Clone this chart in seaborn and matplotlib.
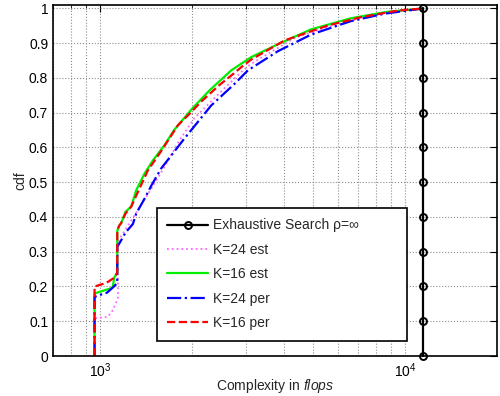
import numpy as np
import pandas as pd
import matplotlib
matplotlib.use('Agg')
import matplotlib.pyplot as plt
import seaborn as sns
from matplotlib.ticker import LogLocator, NullFormatter, FixedLocator

# values (complexity in flops, cdf)
exh_x = [11450] * 11
exh_y = [0.0, 0.1, 0.2, 0.3, 0.4, 0.5, 0.6, 0.7, 0.8, 0.9, 1.0]

k24_est_x = [958, 958, 1060, 1100, 1143, 1143, 1217, 1329, 1415, 1625, 1820,
             2038, 2431, 2900, 3127, 4336, 5579, 7174, 9000, 11450]
k24_est_y = [0, 0.108, 0.113, 0.132, 0.166, 0.33, 0.367, 0.42, 0.458, 0.544, 0.621,
             0.685, 0.752, 0.817, 0.841, 0.915, 0.947, 0.971, 0.99, 1.0]

k16_est_x = [958, 958, 1086, 1100, 1111, 1137, 1137, 1154, 1172, 1210, 1264,
             1312, 1397, 1489, 1625, 1752, 2003, 2280, 2689, 3127, 3824,
             4918, 6653, 8663, 11450]
k16_est_y = [0, 0.18, 0.195, 0.2, 0.225, 0.24, 0.36, 0.375, 0.383, 0.415, 0.43,
             0.477, 0.525, 0.563, 0.607, 0.652, 0.712, 0.764, 0.822, 0.86, 0.897,
             0.94, 0.972, 0.99, 1.0]

k24_per_x = [958, 958, 1008, 1052, 1109, 1137, 1137, 1166, 1210, 1280, 1312,
             1408, 1470, 1585, 1889, 2312, 2756, 3050, 3824, 4918,
             6653, 8553, 11450]
k24_per_y = [0, 0.17, 0.177, 0.182, 0.2, 0.21, 0.314, 0.33, 0.355, 0.38, 0.41,
             0.458, 0.49, 0.54, 0.626, 0.721, 0.783, 0.822, 0.877, 0.925,
             0.964, 0.985, 1.0]

k16_per_x = [958, 958, 1008, 1046, 1111, 1137, 1137, 1154, 1172, 1210, 1264,
             1329, 1433, 1585, 1798, 1963, 2143, 2461, 2689, 2900, 3127, 4021, 5579,
             7174, 9465, 11450]
k16_per_y = [0, 0.2, 0.206, 0.21, 0.225, 0.24, 0.362, 0.375, 0.383, 0.41, 0.43,
             0.472, 0.534, 0.59, 0.664, 0.697, 0.732, 0.78, 0.807, 0.831, 0.853, 0.908, 0.951,
             0.975, 0.994, 1.0]

y_ticks = [0, 0.1, 0.2, 0.3, 0.4, 0.5, 0.6, 0.7, 0.8, 0.9, 1]
y_ticklabels = ['0', '0.1', '0.2', '0.3', '0.4', '0.5', '0.6', '0.7', '0.8', '0.9', '1']


def main():
    sns.set_style('white')
    plt.rcParams['font.family'] = ['Liberation Sans', 'DejaVu Sans']
    plt.rcParams['mathtext.fontset'] = 'custom'
    plt.rcParams['mathtext.rm'] = 'Liberation Sans'
    plt.rcParams['mathtext.it'] = 'Liberation Sans:italic'
    plt.rcParams['font.size'] = 10

    fig = plt.figure(figsize=(5.0, 3.96), dpi=100)
    ax = fig.add_axes([53 / 500, 1 - 356 / 396, 444 / 500, 351 / 396])

    # exhaustive search: vertical line with open circles
    ax.plot(exh_x, exh_y, color='black', linestyle='-', linewidth=1.6,
            marker='o', markersize=5, markerfacecolor='none',
            markeredgecolor='black', markeredgewidth=1.4, clip_on=False,
            label='Exhaustive Search ρ=∞', zorder=5)

    series = [
        (k24_est_x, k24_est_y, 'K=24 est', dict(color='#ff66ff', linestyle=':', linewidth=1.3)),
        (k16_est_x, k16_est_y, 'K=16 est', dict(color='#00ee00', linestyle='-', linewidth=1.6)),
        (k24_per_x, k24_per_y, 'K=24 per', dict(color='#0000ff', linestyle='-.', linewidth=1.6)),
        (k16_per_x, k16_per_y, 'K=16 per', dict(color='#ff0000', linestyle='--', linewidth=1.6)),
    ]
    for x, y, label, kw in series:
        df = pd.DataFrame({'x': x, 'y': y})
        sns.lineplot(data=df, x='x', y='y', estimator=None, sort=False, ax=ax, label=label, **kw)

    ax.set_xscale('log')
    ax.set_xlim(700, 20000)
    ax.set_ylim(0, 1.01)

    ax.xaxis.set_major_locator(FixedLocator([1000, 10000]))
    ax.set_xticklabels(['$10^{3}$', '$10^{4}$'])
    ax.xaxis.set_minor_locator(LogLocator(base=10, subs=np.arange(2, 10)))
    ax.xaxis.set_minor_formatter(NullFormatter())
    ax.set_yticks(y_ticks)
    ax.set_yticklabels(y_ticklabels)

    ax.tick_params(which='both', direction='in', top=True, right=True, colors='black',
                   labelsize=10)
    ax.tick_params(which='major', length=5, width=0.8)
    ax.tick_params(which='minor', length=3, width=0.6)
    ax.tick_params(axis='x', pad=4)

    ax.grid(True, which='major', axis='both', color='0.55', linestyle=':', linewidth=0.8)
    ax.grid(True, which='minor', axis='x', color='0.55', linestyle=':', linewidth=0.8)

    for s in ax.spines.values():
        s.set_color('black')
        s.set_linewidth(1.2)

    ax.set_xlabel('Complexity in $\\mathit{flops}$', fontsize=10, labelpad=-2)
    ax.set_ylabel('cdf', fontsize=10, labelpad=1)

    handles, labels = ax.get_legend_handles_labels()
    leg = ax.legend(handles, labels, loc='upper left',
                    bbox_to_anchor=(157 / 500, 1 - 212 / 396, 250 / 500, 0.01),
                    bbox_transform=fig.transFigure, mode='expand', borderaxespad=0,
                    handlelength=2.9, labelspacing=0.75, handletextpad=0.35,
                    borderpad=0.75, fancybox=False, framealpha=1, edgecolor='black',
                    fontsize=10, numpoints=1)
    leg.get_frame().set_linewidth(1.2)

    fig.savefig('out.png', dpi=100)


if __name__ == '__main__':
    main()
